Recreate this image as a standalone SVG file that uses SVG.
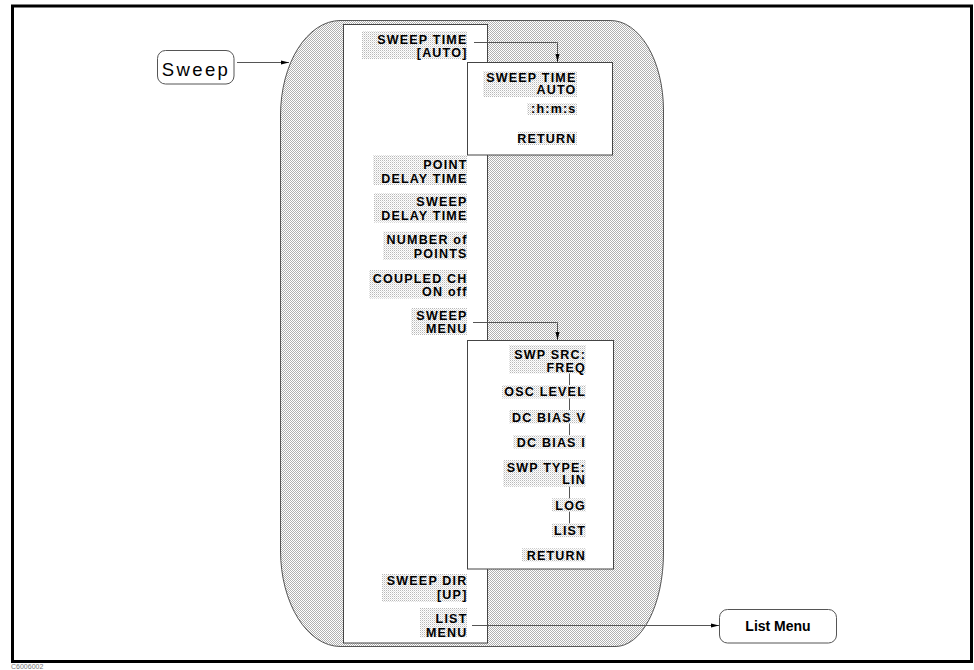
<svg xmlns="http://www.w3.org/2000/svg" width="974" height="670" viewBox="0 0 974 670">
<defs>
<pattern id="shade" width="2" height="2" patternUnits="userSpaceOnUse">
<rect width="2" height="2" fill="#ffffff"/>
<rect x="0" y="0" width="1" height="1" fill="#b0b0b0"/>
<rect x="1" y="1" width="1" height="1" fill="#b0b0b0"/>
</pattern>
<pattern id="lbl" width="2" height="2" patternUnits="userSpaceOnUse">
<rect width="2" height="2" fill="#ffffff"/>
<rect x="0" y="0" width="1" height="1" fill="#b8b8b8"/>
<rect x="1" y="1" width="1" height="1" fill="#e0e0e0"/>
</pattern>
<marker id="arr" markerUnits="userSpaceOnUse" markerWidth="10" markerHeight="6" refX="8" refY="3" orient="auto">
<path d="M0,1 L8,3 L0,5 Z" fill="#000"/>
</marker>
</defs>
<style>
.panel{fill:#fff;stroke:#444;stroke-width:1}
.bg{fill:url(#lbl)}
.t{font-family:"Liberation Sans",Arial,sans-serif;font-weight:bold;font-size:12.5px;letter-spacing:1.2px;text-anchor:end;fill:#000}
.c{fill:none;stroke:#555;stroke-width:1}
.key{fill:#fff;stroke:#555;stroke-width:1}
</style>
<rect x="12.5" y="6" width="959" height="655.5" fill="#fff" stroke="#000" stroke-width="3"/>
<text x="11" y="668.5" font-family="Liberation Sans,Arial,sans-serif" font-size="7" fill="#777">C6006002</text>

<g id="region">
<path d="M340,20.5 H610 A53,90 0 0 1 663.5,110 V553 A48,94 0 0 1 615,646.5 H340 A60,96 0 0 1 280.5,551 V115 A60,95 0 0 1 340,20.5 Z" fill="url(#shade)" stroke="#555" stroke-width="1"/>
</g>

<g id="main-menu">
<rect class="panel" x="343.5" y="24.5" width="144" height="618.5"/>
<rect class="bg" x="362" y="31" width="105" height="28"/>
<text class="t" x="467.5" y="43.5">SWEEP TIME</text>
<text class="t" x="467.5" y="56.8">[AUTO]</text>
<rect class="bg" x="373" y="155" width="94" height="30"/>
<text class="t" x="467.5" y="169.2">POINT</text>
<text class="t" x="467.5" y="182.7">DELAY TIME</text>
<rect class="bg" x="374" y="193" width="93" height="29.5"/>
<text class="t" x="467.5" y="206">SWEEP</text>
<text class="t" x="467.5" y="219.7">DELAY TIME</text>
<rect class="bg" x="383" y="231.5" width="84" height="28.5"/>
<text class="t" x="467.5" y="244.3">NUMBER of</text>
<text class="t" x="467.5" y="257.7">POINTS</text>
<rect class="bg" x="369" y="270" width="98" height="28.5"/>
<text class="t" x="467.5" y="282.7">COUPLED CH</text>
<text class="t" x="467.5" y="295.8">ON off</text>
<rect class="bg" x="411" y="308" width="56" height="27"/>
<text class="t" x="467.5" y="320.2">SWEEP</text>
<text class="t" x="467.5" y="333.4">MENU</text>
<rect class="bg" x="382" y="574" width="85" height="28"/>
<text class="t" x="467.5" y="585.2">SWEEP DIR</text>
<text class="t" x="467.5" y="599">[UP]</text>
<rect class="bg" x="420" y="608" width="47" height="29.5"/>
<text class="t" x="467.5" y="623.3">LIST</text>
<text class="t" x="467.5" y="636.7">MENU</text>
</g>

<g id="sweep-time-menu">
<rect class="panel" x="467.5" y="62.5" width="145" height="92.5"/>
<rect class="bg" x="483" y="71" width="94" height="26"/>
<text class="t" x="576.5" y="81.7">SWEEP TIME</text>
<text class="t" x="576.5" y="94">AUTO</text>
<rect class="bg" x="527" y="103" width="50" height="12"/>
<text class="t" x="576.5" y="113.3">:h:m:s</text>
<rect class="bg" x="518" y="131.5" width="59" height="13.5"/>
<text class="t" x="576.5" y="143.3">RETURN</text>
</g>

<g id="sweep-menu">
<rect class="panel" x="467.5" y="340.5" width="146" height="228.5"/>
<line class="c" x1="569.5" y1="372" x2="569.5" y2="436"/>
<line class="c" x1="569.5" y1="486" x2="569.5" y2="524"/>
<rect class="bg" x="509" y="345" width="77" height="28.5"/>
<text class="t" x="586" y="359">SWP SRC:</text>
<text class="t" x="586" y="371.7">FREQ</text>
<rect class="bg" x="502" y="385" width="84" height="13.5"/>
<text class="t" x="586" y="396">OSC LEVEL</text>
<rect class="bg" x="509" y="410" width="77" height="13.5"/>
<text class="t" x="586" y="421.7">DC BIAS V</text>
<rect class="bg" x="513" y="435" width="73" height="13.5"/>
<text class="t" x="586" y="446.7">DC BIAS I</text>
<rect class="bg" x="503" y="460" width="83" height="26.7"/>
<text class="t" x="586" y="471.7">SWP TYPE:</text>
<text class="t" x="586" y="484.3">LIN</text>
<rect class="bg" x="552" y="498.3" width="34" height="13.4"/>
<text class="t" x="586" y="510">LOG</text>
<rect class="bg" x="552" y="523.3" width="34" height="14"/>
<text class="t" x="586" y="535">LIST</text>
<rect class="bg" x="522" y="548.3" width="64" height="13.4"/>
<text class="t" x="586" y="560">RETURN</text>
</g>

<g id="sweep-key">
<rect class="key" x="157.5" y="50.5" width="76.5" height="33.5" rx="8" ry="8"/>
<text x="196" y="75.5" font-family="Liberation Sans,Arial,sans-serif" font-size="18.5" letter-spacing="2.4" text-anchor="middle" fill="#000">Sweep</text>
</g>

<g id="list-menu-key">
<rect class="key" x="719.5" y="609.5" width="117" height="33.5" rx="8" ry="8"/>
<text x="778" y="631" font-family="Liberation Sans,Arial,sans-serif" font-size="14" font-weight="bold" text-anchor="middle" fill="#000">List Menu</text>
</g>

<g id="connectors">
<path class="c" d="M237,62.5 H289" marker-end="url(#arr)"/>
<path class="c" d="M474,42.5 H557.5 V62" marker-end="url(#arr)"/>
<path class="c" d="M473,322.5 H557.5 V340" marker-end="url(#arr)"/>
<path class="c" d="M472,625.5 H719" marker-end="url(#arr)"/>
</g>
</svg>
